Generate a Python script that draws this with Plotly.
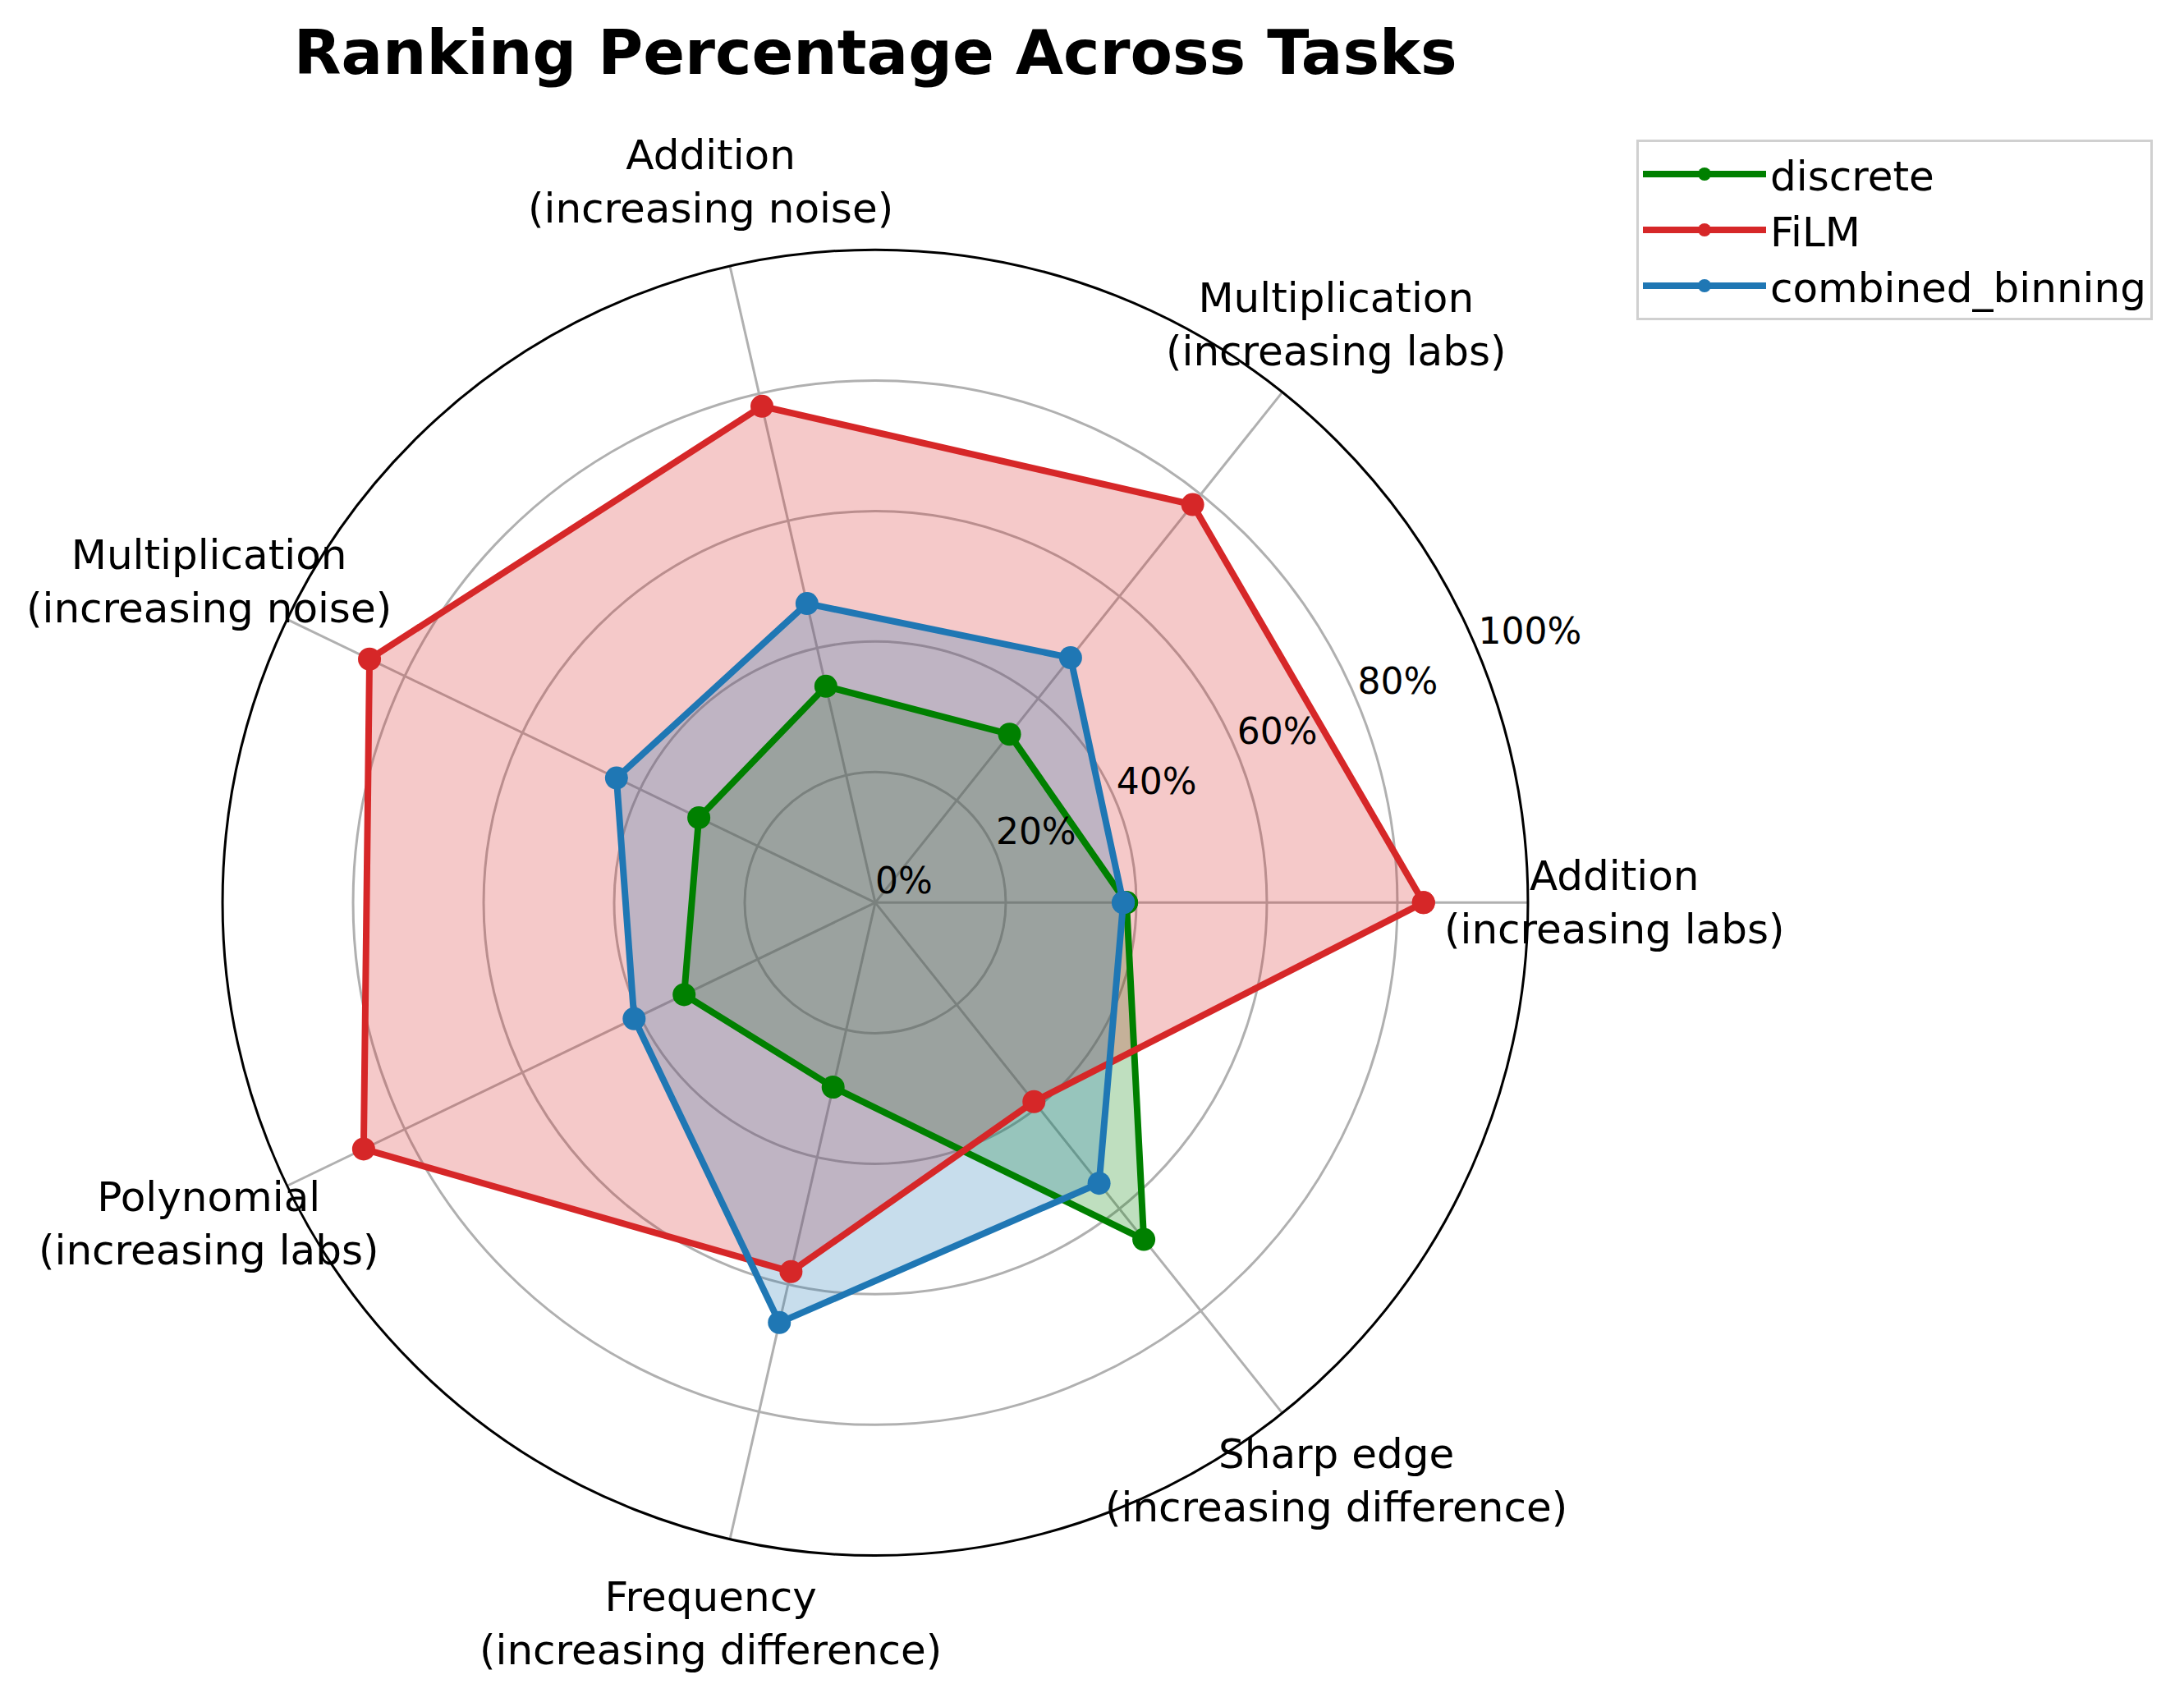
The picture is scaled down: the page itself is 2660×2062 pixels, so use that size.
import math
import plotly.graph_objects as go

categories = [
    "Addition<br>(increasing labs)",
    "Multiplication<br>(increasing labs)",
    "Addition<br>(increasing noise)",
    "Multiplication<br>(increasing noise)",
    "Polynomial<br>(increasing labs)",
    "Frequency<br>(increasing difference)",
    "Sharp edge<br>(increasing difference)",
]
discrete = [38.5, 33, 34, 30, 32.5, 29, 66]
film = [84, 78, 78, 86, 87, 58, 39]
combined_binning = [38, 48, 47, 44, 41, 66, 55]

series_names = ["discrete", "FiLM", "combined_binning"]
series_values = [discrete, film, combined_binning]
series_colors = ["#008000", "#d62728", "#1f77b4"]
series_fills = ["rgba(0,128,0,0.25)", "rgba(214,39,40,0.25)", "rgba(31,119,180,0.25)"]

radial_ticks = [0, 20, 40, 60, 80, 100]
radial_tick_labels = ["0%", "20%", "40%", "60%", "80%", "100%"]

n = len(categories)
angles = [i * 360.0 / n for i in range(n)]

W, H = 2660, 2062
DOM_X = [0.1019, 0.6996]
DOM_Y = [0.0813, 0.8524]
FONT = "DejaVu Sans"
fig = go.Figure()

# fills first (drawn beneath all lines, like matplotlib patches)
for name, vals, fc in zip(series_names, series_values, series_fills):
    fig.add_trace(go.Scatterpolar(
        r=vals + vals[:1],
        theta=angles + angles[:1],
        mode="none",
        fill="toself",
        fillcolor=fc,
        showlegend=False,
        hoverinfo="skip",
    ))

for name, vals, col in zip(series_names, series_values, series_colors):
    fig.add_trace(go.Scatterpolar(
        r=vals + vals[:1],
        theta=angles + angles[:1],
        mode="lines+markers",
        name=name,
        line=dict(color=col, width=8),
        marker=dict(color=col, size=28),
    ))

# radial tick labels
fig.add_trace(go.Scatterpolar(
    r=radial_ticks,
    theta=[22.5] * len(radial_ticks),
    mode="text",
    text=radial_tick_labels,
    textposition="top right",
    textfont=dict(family=FONT, size=44, color="black"),
    showlegend=False,
    cliponaxis=False,
    hoverinfo="skip",
))

# category labels placed just outside the polar circle
cx = (DOM_X[0] + DOM_X[1]) / 2
cy = (DOM_Y[0] + DOM_Y[1]) / 2
R_px = (DOM_X[1] - DOM_X[0]) * W / 2
label_r = 1.133 * R_px
annotations = []
for lab, a in zip(categories, angles):
    t = math.radians(a)
    annotations.append(dict(
        x=cx + label_r * math.cos(t) / W,
        y=cy + label_r * math.sin(t) / H,
        xref="paper", yref="paper",
        text=lab, showarrow=False,
        xanchor="center", yanchor="middle", align="center",
        font=dict(family=FONT, size=50, color="black"),
    ))

fig.update_layout(
    width=W,
    height=H,
    margin=dict(l=0, r=0, t=0, b=0),
    paper_bgcolor="white",
    plot_bgcolor="white",
    font=dict(family=FONT, size=50, color="black"),
    annotations=annotations,
    title=dict(
        text="<b>Ranking Percentage Across Tasks</b>",
        x=0.4008, y=1 - 64 / H,
        xanchor="center", yanchor="middle",
        font=dict(family=FONT, size=75, color="black"),
    ),
    polar=dict(
        domain=dict(x=DOM_X, y=DOM_Y),
        bgcolor="white",
        radialaxis=dict(
            range=[0, 100],
            tickvals=radial_ticks,
            showticklabels=False,
            ticks="",
            showline=False,
            gridcolor="#b0b0b0",
            gridwidth=3,
            layer="below traces",
        ),
        angularaxis=dict(
            direction="counterclockwise",
            rotation=0,
            tickvals=angles,
            showticklabels=False,
            ticks="",
            showline=True,
            linecolor="black",
            linewidth=3,
            gridcolor="#b0b0b0",
            gridwidth=3,
            layer="below traces",
        ),
    ),
    legend=dict(
        x=1993 / W, y=1 - 170 / H,
        xanchor="left", yanchor="top",
        bgcolor="white",
        bordercolor="#d0d0d0",
        borderwidth=3,
        font=dict(family=FONT, size=50, color="black"),
        itemwidth=150,
        tracegroupgap=0,
    ),
)

fig.write_html("out.html")
